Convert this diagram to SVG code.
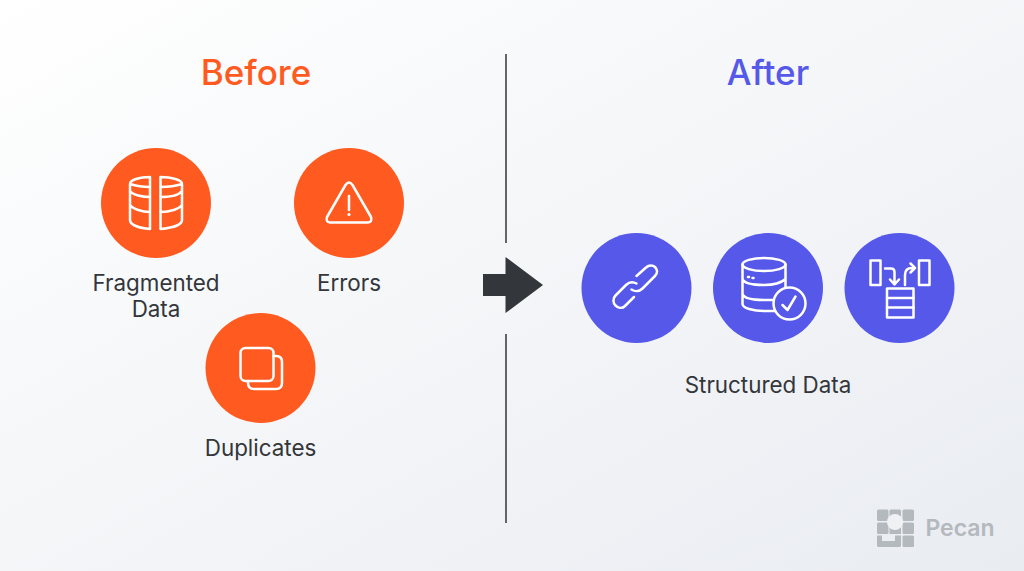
<svg xmlns="http://www.w3.org/2000/svg" width="1024" height="571" viewBox="0 0 1024 571">
<style>
text{font-family:Inter,"Liberation Sans",sans-serif;text-anchor:middle}
.t{font-size:35px;font-weight:500}
.l{font-size:22.400px;fill:#33363a}
.i{fill:none;stroke:#fff;stroke-width:2.500;stroke-linecap:round;stroke-linejoin:round}
.o{fill:#ff5a1f}
.b{fill:#5558e8}
.g{fill:#b4b9be}
</style>
<defs><linearGradient id="bg" x1="0" y1="0" x2="1" y2="1"><stop offset="0" stop-color="#ffffff"/><stop offset="1" stop-color="#e9ecf1"/></linearGradient></defs>
<rect width="1024" height="571" fill="url(#bg)"/>
<text class="t" x="256" y="85" fill="#ff5a1f">Before</text>
<text class="t" x="768" y="85" fill="#5558e8">After</text>
<g id="connectors">
<path d="M506 54V243M506 334V523" stroke="#33363a" stroke-width="1.500" fill="none"/>
<path d="M483 274H505.500V257L543 285L505.500 313V296H483Z" fill="#33363a"/>
</g>
<g id="fragmented">
<circle class="o" cx="156" cy="203" r="55"/>
<path class="i" d="M150 177V229C139 228 130 225 130 220V184C130 180 139 177 150 177ZM130 184C133 185 140 187 150 187M130 191C133 195 142 197 150 197M130 205C133 209 142 212 150 212"/>
<path class="i" d="M160.500 177V229C172 228 182 225 182 220V184C182 180 172 177 160.500 177ZM182 184C179 185 172 187 160.500 187M182 191C179 195 170 197 160.500 197M182 205C179 209 170 212 160.500 212"/>
<text class="l" x="156" y="290.500">Fragmented</text>
<text class="l" x="156" y="316.500">Data</text>
</g>
<g id="errors">
<circle class="o" cx="349" cy="203" r="55"/>
<path class="i" d="M345.500 185Q349 180 352.500 185L371 217Q372.500 222 368 222.500H330Q325.500 222 327 217Z"/>
<path class="i" d="M349 196V210"/><circle cx="349" cy="214.500" r="1.600" fill="#fff"/>
<text class="l" x="349" y="290.500">Errors</text>
</g>
<g id="duplicates">
<circle class="o" cx="260.500" cy="368" r="55"/>
<rect class="i" x="240.500" y="348" width="33" height="33" rx="5"/>
<path class="i" d="M273.500 356H276Q282 356 282 362V383Q282 389 276 389H254Q248 389 248 383V381"/>
<text class="l" x="260.500" y="455.500">Duplicates</text>
</g>
<g id="link">
<circle class="b" cx="636.500" cy="288" r="55"/>
<path class="i" d="M636.500 276L646 267.500C649 264.500 653 265 655 267C657.500 269.500 658 273 655 276L642.500 288.500C639 292 634.500 291.500 631.500 289.500"/>
<path class="i" d="M636.500 283.500C633 281.500 629 282 626 285L615.500 295.500C612.500 298.500 613 303 615.500 305.500C618 308 622 309 625 306L634 297"/>
</g>
<g id="database">
<circle class="b" cx="768" cy="288" r="55"/>
<ellipse class="i" cx="764" cy="264.500" rx="21.500" ry="6.500"/>
<path class="i" d="M742.500 264.500V304C742.500 308 753 311 764.500 311H775M785.500 264.500V287M742.500 279C744 283 753 285 764 285C772 285 780 284 785.500 279M742.500 294C744 298 753 300 764 300H773"/>
<path class="i" d="M748 277H749M752.500 278H753.500"/>
<circle cx="789.500" cy="303.500" r="16" fill="#5558e8" stroke="#fff" stroke-width="2.500"/>
<path class="i" d="M782.500 305L787.500 310L795.500 296.500"/>
</g>
<g id="transform">
<circle class="b" cx="899.500" cy="288" r="55"/>
<rect class="i" x="870.500" y="260.500" width="10" height="24.500"/>
<rect class="i" x="919" y="260.500" width="10.500" height="24.500"/>
<path class="i" d="M885 268.500H891Q894.500 268.500 894.500 272V284M890 279.500L894.500 284.500L899 279.500"/>
<path class="i" d="M905 285V275Q905 268 912 268H915M910.500 263.500L915 268L910.500 272.500"/>
<rect class="i" x="887" y="288.500" width="26.500" height="29"/>
<path class="i" d="M887 298H913.500M887 307.500H913.500"/>
</g>
<text class="l" x="768" y="392.500">Structured Data</text>
<g id="pecan-logo">
<rect class="g" x="877" y="509.500" width="11.500" height="11.500" rx="1.500"/>
<rect class="g" x="889.500" y="509.500" width="11.500" height="11.500" rx="1.500"/>
<rect class="g" x="902.500" y="509.500" width="11.500" height="11.500" rx="1.500"/>
<rect class="g" x="877" y="522.500" width="11.500" height="11.500" rx="1.500"/>
<rect class="g" x="889.500" y="522.500" width="11.500" height="11.500"/>
<rect class="g" x="902.500" y="522.500" width="11.500" height="11.500" rx="1.500"/>
<circle cx="895" cy="522" r="8" fill="#eff1f4"/>
<path class="g" d="M877 535.500H882V541H895V535.500H901V545.500Q901 547 899.500 547H878.500Q877 547 877 545.500Z"/>
<rect class="g" x="902.500" y="535.500" width="11.500" height="11.500" rx="1.500"/>
<text x="960" y="536" font-size="23" font-weight="600" fill="#b4b9be">Pecan</text>
</g>
</svg>
